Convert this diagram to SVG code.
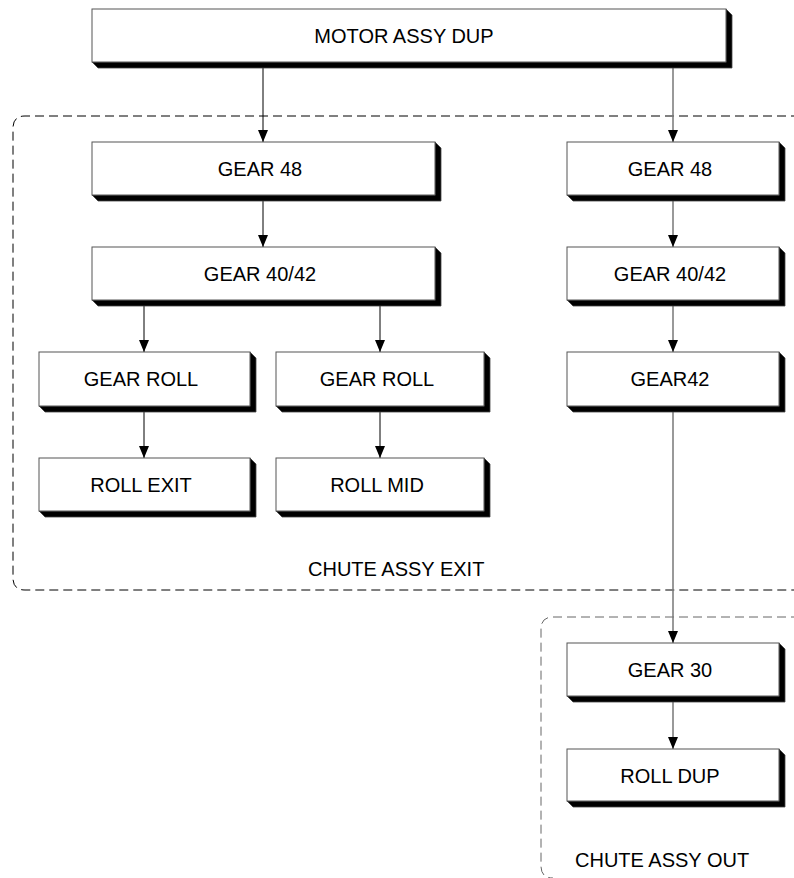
<svg xmlns="http://www.w3.org/2000/svg" width="794" height="878" viewBox="0 0 794 878">
<style>
.box{fill:#fff;stroke:#555;stroke-width:1}
.sh{fill:#000;stroke:#444;stroke-width:0.8}
.t{font-family:"Liberation Sans",Arial,sans-serif;font-size:20px;fill:#000;text-anchor:middle}
.lbl{font-family:"Liberation Sans",Arial,sans-serif;font-size:20px;fill:#000}
.cb{stroke:#000;stroke-width:1;fill:none}
.cg{stroke:#777;stroke-width:1.5;fill:none}
.dash1{fill:none;stroke:#000;stroke-width:1;stroke-dasharray:9 5}
.dash2{fill:none;stroke:#666;stroke-width:1;stroke-dasharray:9 5}
</style>
<defs>
<marker id="ah" markerWidth="12" markerHeight="10" refX="12" refY="5" orient="auto" markerUnits="userSpaceOnUse" viewBox="0 0 12 10">
<path d="M0,0 L12,5 L0,10 Z" fill="#000"/>
</marker>
</defs>
<rect width="794" height="878" fill="#fff"/>

<g id="groups">
<path class="dash1" d="M800,116 L25,116 Q13,116 13,128 L13,578 Q13,590 25,590 L800,590"/>
<path class="dash2" d="M800,617 L553,617 Q541,617 541,629 L541,866 Q541,878 553,878"/>
<text class="lbl" x="308" y="576">CHUTE ASSY EXIT</text>
<text class="lbl" x="575" y="867">CHUTE ASSY OUT</text>
</g>

<g id="connectors">
<line class="cb" x1="263" y1="68" x2="263" y2="142" marker-end="url(#ah)"/>
<line class="cg" x1="673" y1="68" x2="673" y2="142" marker-end="url(#ah)"/>
<line class="cb" x1="263" y1="201" x2="263" y2="247" marker-end="url(#ah)"/>
<line class="cg" x1="673" y1="201" x2="673" y2="247" marker-end="url(#ah)"/>
<line class="cb" x1="144" y1="306" x2="144" y2="352" marker-end="url(#ah)"/>
<line class="cb" x1="380" y1="306" x2="380" y2="352" marker-end="url(#ah)"/>
<line class="cg" x1="673" y1="306" x2="673" y2="352" marker-end="url(#ah)"/>
<line class="cb" x1="144" y1="412" x2="144" y2="458" marker-end="url(#ah)"/>
<line class="cb" x1="380" y1="412" x2="380" y2="458" marker-end="url(#ah)"/>
<line class="cg" x1="673" y1="412" x2="673" y2="643" marker-end="url(#ah)"/>
<line class="cg" x1="673" y1="702" x2="673" y2="749" marker-end="url(#ah)"/>
</g>

<g id="motor">
<polygon class="sh" points="92,62 98,68 732,68 732,15 726,9 726,62"/>
<rect class="box" x="92" y="9" width="634" height="53"/>
<text class="t" x="404" y="43">MOTOR ASSY DUP</text>
</g>

<g id="gear48L">
<polygon class="sh" points="92,195 98,201 441,201 441,148 435,142 435,195"/>
<rect class="box" x="92" y="142" width="343" height="53"/>
<text class="t" x="260" y="176">GEAR 48</text>
</g>

<g id="gear48R">
<polygon class="sh" points="567,195 573,201 785,201 785,148 779,142 779,195"/>
<rect class="box" x="567" y="142" width="212" height="53"/>
<text class="t" x="670" y="176">GEAR 48</text>
</g>

<g id="gear4042L">
<polygon class="sh" points="92,300 98,306 441,306 441,253 435,247 435,300"/>
<rect class="box" x="92" y="247" width="343" height="53"/>
<text class="t" x="260" y="281">GEAR 40/42</text>
</g>

<g id="gear4042R">
<polygon class="sh" points="567,300 573,306 785,306 785,253 779,247 779,300"/>
<rect class="box" x="567" y="247" width="212" height="53"/>
<text class="t" x="670" y="281">GEAR 40/42</text>
</g>

<g id="gearroll1">
<polygon class="sh" points="39,406 45,412 256,412 256,358 250,352 250,406"/>
<rect class="box" x="39" y="352" width="211" height="54"/>
<text class="t" x="141" y="386">GEAR ROLL</text>
</g>

<g id="gearroll2">
<polygon class="sh" points="276,406 282,412 490,412 490,358 484,352 484,406"/>
<rect class="box" x="276" y="352" width="208" height="54"/>
<text class="t" x="377" y="386">GEAR ROLL</text>
</g>

<g id="gear42">
<polygon class="sh" points="567,406 573,412 785,412 785,358 779,352 779,406"/>
<rect class="box" x="567" y="352" width="212" height="54"/>
<text class="t" x="670" y="386">GEAR42</text>
</g>

<g id="rollexit">
<polygon class="sh" points="39,511 45,517 256,517 256,464 250,458 250,511"/>
<rect class="box" x="39" y="458" width="211" height="53"/>
<text class="t" x="141" y="492">ROLL EXIT</text>
</g>

<g id="rollmid">
<polygon class="sh" points="276,511 282,517 490,517 490,464 484,458 484,511"/>
<rect class="box" x="276" y="458" width="208" height="53"/>
<text class="t" x="377" y="492">ROLL MID</text>
</g>

<g id="gear30">
<polygon class="sh" points="567,696 573,702 785,702 785,649 779,643 779,696"/>
<rect class="box" x="567" y="643" width="212" height="53"/>
<text class="t" x="670" y="677">GEAR 30</text>
</g>

<g id="rolldup">
<polygon class="sh" points="567,801 573,807 785,807 785,755 779,749 779,801"/>
<rect class="box" x="567" y="749" width="212" height="52"/>
<text class="t" x="670" y="783">ROLL DUP</text>
</g>
</svg>
